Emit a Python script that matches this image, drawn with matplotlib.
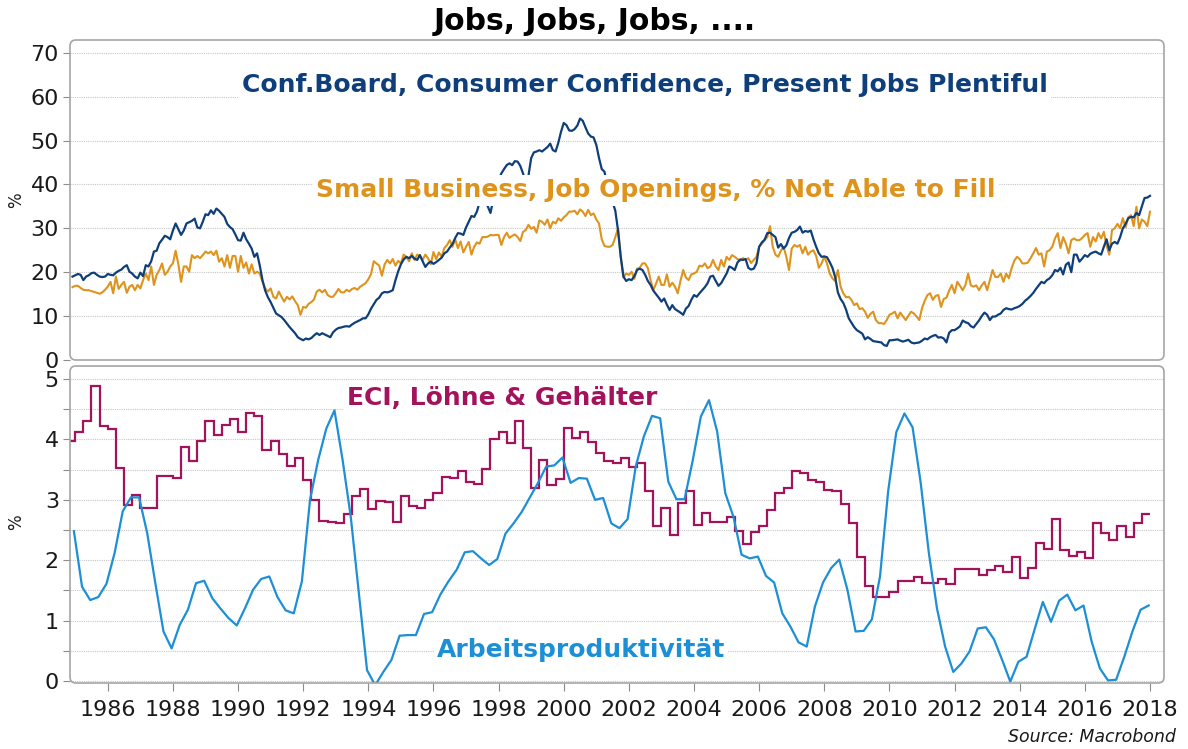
import numpy as np
import matplotlib.pyplot as plt
from matplotlib.patches import FancyBboxPatch
from matplotlib.ticker import MultipleLocator

W, H = 1188, 749

# ── data ──────────────────────────────────────────────────────────────────────

# monthly, Dec 1984 .. Jan 2018
MONTHLY_START = 1984 + 11 / 12

conf_board = [
    19.0, 19.3, 19.6, 19.4, 18.2, 19.0, 19.3, 19.8, 19.9, 19.4, 19.0, 18.9, 19.0,
    19.6, 19.4, 19.3, 19.9, 20.3, 20.6, 21.2, 21.6, 20.1, 19.7, 19.0, 18.6,
    19.9, 19.1, 21.6, 21.3, 22.5, 24.7, 24.9, 26.6, 27.4, 28.3, 28.0, 27.5,
    29.5, 31.1, 29.8, 28.5, 29.5, 31.1, 31.4, 31.7, 32.2, 30.2, 30.0, 31.5,
    33.2, 33.0, 34.1, 33.3, 34.5, 34.0, 33.3, 32.6, 31.0, 30.3, 29.8, 28.6,
    27.3, 27.2, 29.0, 27.5, 26.5, 25.4, 23.5, 24.3, 21.5, 18.2, 15.8, 14.3,
    13.2, 11.9, 10.6, 10.2, 9.8, 9.1, 8.3, 7.5, 6.8, 6.1, 5.2, 4.8,
    4.5, 4.9, 4.7, 5.0, 5.6, 6.1, 5.7, 6.1, 5.8, 5.5, 5.2, 6.3,
    6.9, 7.3, 7.4, 7.6, 7.7, 7.6, 8.1, 8.5, 8.8, 9.1, 9.5, 9.5,
    10.4, 11.7, 12.7, 13.7, 14.2, 15.2, 15.5, 15.4, 15.6, 15.9, 18.2, 20.2,
    21.8, 22.9, 23.5, 23.2, 23.7, 23.1, 22.8, 23.9, 22.5, 21.2, 22.0, 22.4,
    21.9, 22.3, 22.8, 23.3, 24.3, 24.7, 25.6, 26.4, 27.8, 28.9, 28.8, 28.5,
    30.2, 31.5, 32.8, 32.6, 33.8, 36.0, 37.5, 36.0, 35.0, 33.5, 36.5, 39.0,
    41.0, 42.5, 43.5, 44.4, 44.8, 44.4, 45.3, 45.2, 44.2, 42.5, 40.5, 42.0,
    46.0, 47.3, 47.5, 47.8, 47.5, 48.0, 48.5, 49.3, 47.8, 47.5, 49.5, 52.0,
    54.0, 53.5, 52.3, 52.2, 52.6, 53.4, 55.0, 54.5, 53.0, 51.6, 50.9, 50.7,
    49.0, 46.0, 43.5, 42.9, 40.0, 38.0, 36.0, 34.0, 29.5,
    23.5, 19.0, 18.0, 18.4, 18.2, 19.1, 20.5, 20.8, 20.5, 19.4, 18.0, 17.1,
    15.8, 15.0, 14.2, 13.3, 14.0, 12.6, 11.4, 12.5, 11.6, 11.2, 10.8, 10.3,
    11.7, 12.3, 13.7, 14.8, 14.4, 15.2, 15.9, 16.6, 17.5, 19.0, 19.2, 18.0,
    16.9, 17.5, 18.6, 19.7, 21.3, 21.0, 20.5, 22.2, 22.9, 22.8, 23.0, 21.0,
    20.6, 20.8, 22.0, 25.8, 26.8, 27.4, 28.9, 29.0, 28.5, 28.0, 25.6, 26.4,
    25.4, 26.1, 27.8, 29.0, 29.2, 29.6, 30.4, 29.0, 29.4, 29.2, 29.5, 27.5,
    25.8, 24.3, 23.5, 23.6, 23.4, 22.3, 21.0, 18.9, 15.4, 13.9, 13.0, 11.5,
    9.5, 8.5, 7.5, 6.8, 6.4, 6.0, 4.7, 5.2, 4.8, 4.3, 4.2, 4.1,
    4.0, 3.4, 3.2, 4.5, 4.5,
    4.6, 4.7, 4.4, 4.2, 4.4, 4.6, 4.0, 3.8, 3.9, 4.0, 4.4, 4.9,
    4.7, 5.2, 5.5, 5.7, 5.1, 5.2, 4.9, 4.0, 6.2, 6.8, 6.8, 7.2,
    7.7, 9.0, 8.6, 8.4, 7.7, 7.4, 8.2, 9.0, 10.0, 10.8, 10.3, 9.1,
    9.9, 9.9, 10.3, 10.6, 11.4, 11.8, 11.6, 11.5, 11.8, 12.0, 12.3, 12.8,
    13.5, 14.0, 14.6, 15.3, 16.2, 17.0, 17.8, 17.5, 18.2, 18.6, 19.3, 20.5,
    20.2, 21.0, 19.5, 21.7, 22.2, 20.0, 24.0, 24.0, 22.4, 23.1, 23.9, 23.5,
    24.2, 24.5, 24.7, 24.3, 24.0, 25.8, 27.5, 25.0, 26.5, 26.9, 26.5, 28.0,
    30.0, 31.0, 32.3, 32.6, 32.5, 33.5, 33.0, 35.0, 36.9, 37.0, 37.4,
]

jobs_unfilled = [
    16.6, 16.9, 16.9, 16.4, 16.0, 15.9, 15.9, 15.7, 15.5, 15.3, 15.1, 15.4, 16.0,
    16.7, 17.8, 15.2, 19.0, 16.2, 17.1, 17.8, 15.3, 16.7, 17.1, 15.9, 17.1,
    16.3, 18.2, 19.7, 18.2, 21.3, 17.1, 19.4, 20.5, 22.0, 19.4, 20.1, 21.3,
    22.0, 24.9, 21.8, 17.8, 21.3, 21.3, 20.1, 23.9, 23.2, 23.7, 23.2, 23.9,
    24.7, 24.3, 24.7, 23.9, 24.9, 22.4, 23.2, 21.3, 23.9, 21.0, 23.7, 23.7,
    20.1, 23.7, 21.0, 22.2, 19.7, 21.8, 19.7, 20.1, 19.7, 17.8, 16.3, 15.6,
    16.3, 14.4, 14.0, 15.6, 14.4, 13.3, 14.4, 13.8, 14.5, 13.4, 12.5, 10.3,
    12.1, 11.9, 12.8, 13.2, 13.8, 15.6, 16.0, 15.4, 16.0, 14.8, 14.4, 14.4,
    15.2, 16.2, 15.4, 15.4, 16.0, 15.6, 16.2, 16.4, 16.0, 16.7, 17.1, 17.5,
    18.4, 19.6, 22.5, 22.0, 21.5, 19.2, 21.8, 22.8, 22.0, 23.0, 21.5, 22.6,
    22.0, 24.0, 23.5, 22.5, 24.3, 22.8, 24.0, 23.7, 22.8, 24.0, 23.2, 21.8,
    24.6, 23.0, 24.5, 23.5, 25.5, 26.2, 27.3, 25.8, 27.5, 25.5, 27.0, 24.5,
    25.8, 26.9, 24.0, 25.8, 26.8, 26.5, 28.0, 28.0, 28.1, 28.5, 28.4, 28.5,
    28.5, 26.2, 28.0, 29.0, 27.8, 28.3, 28.6, 28.0, 27.1, 29.2, 29.6, 30.8,
    29.9, 30.3, 29.0, 31.8, 31.5, 30.8, 32.0, 30.0, 31.5, 31.1, 32.3, 31.7,
    32.5, 33.0, 33.8, 33.8, 34.0, 33.2, 34.3, 33.8, 32.8, 34.2, 33.0, 33.4,
    32.0, 31.1, 27.5, 26.0, 25.8, 25.8, 26.2, 28.0, 30.0,
    23.5, 18.8, 19.7, 19.4, 20.1, 18.5, 20.8, 21.0, 22.0, 22.0, 20.9, 18.2,
    15.9, 17.4, 19.0, 17.1, 17.1, 19.5, 16.7, 17.6, 16.7, 15.2, 18.0, 20.5,
    18.8, 18.2, 19.5, 19.7, 20.1, 21.5, 21.3, 22.0, 20.9, 21.3, 22.8, 21.3,
    20.5, 22.8, 21.3, 23.5, 22.8, 23.9, 23.5, 23.0, 22.6, 23.2, 22.8, 23.2,
    22.1, 22.8, 23.5, 25.8, 26.5, 27.3, 28.0, 30.5, 25.8, 24.0, 23.5, 24.9,
    25.8, 23.5, 20.5, 25.4, 26.2, 25.8, 26.2, 24.3, 25.8, 24.0, 24.7, 25.0,
    23.7, 21.0, 22.0, 23.5, 22.0, 19.7, 18.6, 18.0, 20.5, 16.7, 15.2, 14.3,
    14.4, 13.7, 12.5, 12.9, 11.6, 11.8, 11.0, 9.6, 10.5, 11.0, 9.1, 8.4,
    8.4, 8.2, 9.1, 10.3, 10.6,
    11.0, 9.5, 10.8, 9.9, 9.1, 10.1, 11.0, 10.6, 9.9, 9.1, 11.8, 13.5,
    14.8, 15.2, 13.7, 14.6, 14.8, 12.1, 13.9, 14.2, 15.8, 17.1, 15.2, 17.8,
    16.9, 15.9, 17.1, 19.7, 17.0, 16.7, 17.0, 15.9, 17.0, 17.8, 15.9, 18.2,
    20.5, 18.9, 18.9, 19.7, 17.8, 19.7, 18.6, 20.9, 22.6, 23.5, 23.0, 22.0,
    22.0, 22.2, 23.2, 24.3, 25.5, 24.0, 24.3, 21.3, 24.7, 25.0, 25.8, 27.7,
    28.9, 25.5, 28.0, 26.5, 24.3, 27.3, 27.7, 27.3, 27.3, 27.8, 28.5, 28.9,
    25.8, 28.0, 27.0, 28.9, 27.7, 29.2, 26.0, 24.0, 29.6, 30.0, 31.0, 30.0,
    32.3, 30.2, 32.5, 33.0, 30.5, 34.9, 30.0, 32.0, 31.5, 30.5, 33.8,
]

# quarterly ECI wages & salaries, y/y %
ECI_START = 1984.75
eci_wages = [
    3.97, 4.13, 4.30, 4.88, 4.22, 4.17, 3.52, 2.91, 3.08, 2.86,
    2.86, 3.40, 3.40, 3.36, 3.87, 3.65, 3.98, 4.31, 4.08, 4.23,
    4.34, 4.13, 4.43, 4.38, 3.83, 3.97, 3.76, 3.56, 3.70, 3.33,
    3.00, 2.65, 2.63, 2.61, 2.76, 3.06, 3.18, 2.85, 2.98, 2.96,
    2.63, 3.07, 2.89, 2.87, 3.00, 3.11,
    3.38, 3.36, 3.47, 3.30, 3.26, 3.51, 4.01, 4.12, 3.94, 4.30,
    3.86, 3.19, 3.66, 3.25, 3.35, 4.19, 4.02, 4.12, 3.96, 3.78,
    3.64, 3.61, 3.69, 3.55, 3.61, 3.14, 2.57, 2.87, 2.41, 2.94,
    3.15, 2.59, 2.78, 2.64, 2.64, 2.72, 2.49, 2.27, 2.46, 2.56,
    2.83, 3.12, 3.19, 3.47,
    3.44, 3.32, 3.29, 3.17, 3.14, 2.93, 2.62, 2.05, 1.58, 1.39,
    1.39, 1.47, 1.65, 1.65, 1.72, 1.63, 1.63, 1.69, 1.60, 1.86,
    1.86, 1.86, 1.76, 1.83, 1.91, 1.81, 2.06, 1.71, 1.87, 2.28,
    2.19, 2.68, 2.17, 2.07, 2.14, 2.04, 2.61, 2.45, 2.34, 2.57,
    2.38, 2.61, 2.76,
]

# quarterly labour productivity, y/y %
PROD_START = 1984.96
productivity = [
    2.48, 1.56, 1.34, 1.39, 1.61, 2.12, 2.81, 3.04, 3.04, 2.45,
    1.62, 0.82, 0.54, 0.93, 1.18, 1.62, 1.66, 1.37, 1.20, 1.04,
    0.92, 1.20, 1.51, 1.69, 1.73, 1.39, 1.17, 1.12, 1.65, 3.00,
    3.66, 4.18, 4.48, 3.66, 2.72, 1.45, 0.18, -0.07, 0.15, 0.35,
    0.75, 0.76, 0.76, 1.11, 1.14, 1.43, 1.65, 1.84, 2.13, 2.15,
    2.03, 1.92, 2.02, 2.44, 2.61, 2.80, 3.04, 3.28, 3.55, 3.57,
    3.70, 3.28, 3.36, 3.35, 3.00, 3.03, 2.61, 2.53, 2.68, 3.55,
    4.05, 4.39, 4.35, 3.30, 3.01, 3.01, 3.65, 4.38, 4.65, 4.13,
    3.11, 2.72, 2.09, 2.03, 2.06, 1.74, 1.63, 1.12, 0.90, 0.64,
    0.57, 1.23, 1.63, 1.87, 2.01, 1.51, 0.82, 0.83, 1.02, 1.73,
    3.14, 4.12, 4.43, 4.20, 3.28, 2.12, 1.20, 0.57, 0.15, 0.29,
    0.49, 0.87, 0.89, 0.69, 0.35, -0.01, 0.32, 0.40, 0.86, 1.31,
    0.98, 1.33, 1.43, 1.17, 1.25, 0.65, 0.21, 0.01, 0.02, 0.40,
    0.82, 1.18, 1.25,
]

YEAR_TICKS = list(range(1986, 2019, 2))

# ── style ─────────────────────────────────────────────────────────────────────

NAVY   = "#0F3F7A"
ORANGE = "#DE931C"
PLUM   = "#A3135B"
SKY    = "#1C8FD6"
GRID   = "#C6C6C6"
FRAME  = "#A6A6A6"
INK    = "#1A1A1A"

XLIM = (1984.84, 2018.43)


def fx(x):
    return x / W


def fy(y):
    return 1 - y / H


def framed_axes(fig, left, top, right, bottom):
    ax = fig.add_axes([fx(left), fy(bottom), (right - left) / W, (bottom - top) / H])
    for s in ax.spines.values():
        s.set_visible(False)
    box = FancyBboxPatch((fx(left), fy(bottom)), (right - left) / W, (bottom - top) / H,
                         boxstyle="round,pad=0,rounding_size=0.005",
                         mutation_aspect=W / H, transform=fig.transFigure,
                         facecolor="none", edgecolor=FRAME, linewidth=1.2, zorder=5)
    fig.add_artist(box)
    ax.set_xlim(*XLIM)
    ax.grid(axis="y", which="both", color=GRID, linestyle=(0, (1, 1)), linewidth=0.8)
    ax.set_axisbelow(True)
    ax.tick_params(axis="y", which="both", direction="out", length=5, width=0.8,
                   color="#8C8C8C", pad=3, labelsize=16, labelcolor=INK)
    return ax


def series_label(fig, x, y, text, color, pad=2):
    fig.text(fx(x), fy(y), text, ha="center", va="center", fontsize=18,
             fontweight="bold", color=color, zorder=6,
             bbox=dict(facecolor="white", edgecolor="none", pad=pad))


# ── figure ────────────────────────────────────────────────────────────────────

fig = plt.figure(figsize=(W / 100, H / 100), dpi=100)
fig.patch.set_facecolor("white")

# top panel
ax1 = framed_axes(fig, 70, 40, 1164, 360)
t_month = MONTHLY_START + np.arange(len(conf_board)) / 12
t_month2 = MONTHLY_START + np.arange(len(jobs_unfilled)) / 12
ax1.plot(t_month2, jobs_unfilled, color=ORANGE, linewidth=1.5, zorder=3)
ax1.plot(t_month, conf_board, color=NAVY, linewidth=1.6, zorder=3)
ax1.set_ylim(0, 72.9)
ax1.yaxis.set_major_locator(MultipleLocator(10))
ax1.tick_params(axis="x", which="both", bottom=False, labelbottom=False)

# bottom panel
ax2 = framed_axes(fig, 70, 366, 1164, 683)
edges = ECI_START + 0.25 * np.arange(len(eci_wages) + 1)
ax2.stairs(eci_wages, edges, baseline=None, color=PLUM, linewidth=1.6, zorder=3)
t_q = PROD_START + 0.25 * np.arange(len(productivity))
ax2.plot(t_q, productivity, color=SKY, linewidth=1.6, zorder=3)
ax2.set_ylim(-0.033, 5.215)
ax2.yaxis.set_major_locator(MultipleLocator(1))
ax2.yaxis.set_minor_locator(MultipleLocator(0.5))
ax2.set_xticks(YEAR_TICKS)
ax2.tick_params(axis="x", direction="out", length=6, width=0.8, color="#8C8C8C",
                pad=6, labelsize=16, labelcolor=INK)

# texts
fig.text(fx(595), fy(22), "Jobs, Jobs, Jobs, ....", ha="center", va="center",
         fontsize=21.5, fontweight="bold", color="black")
series_label(fig, 645, 85, "Conf.Board, Consumer Confidence, Present Jobs Plentiful", NAVY)
series_label(fig, 656, 190, "Small Business, Job Openings, % Not Able to Fill", ORANGE, pad=2.5)
series_label(fig, 502, 398, "ECI, Löhne & Gehälter", PLUM)
series_label(fig, 581, 650, "Arbeitsproduktivität", SKY)

fig.text(fx(16), fy(200), "%", rotation=90, ha="center", va="center", fontsize=12, color=INK)
fig.text(fx(16), fy(522), "%", rotation=90, ha="center", va="center", fontsize=12, color=INK)
fig.text(fx(1176), fy(737), "Source: Macrobond", ha="right", va="center",
         fontsize=12.5, style="italic", color=INK)

fig.savefig("out.png", dpi=100, facecolor="white")
